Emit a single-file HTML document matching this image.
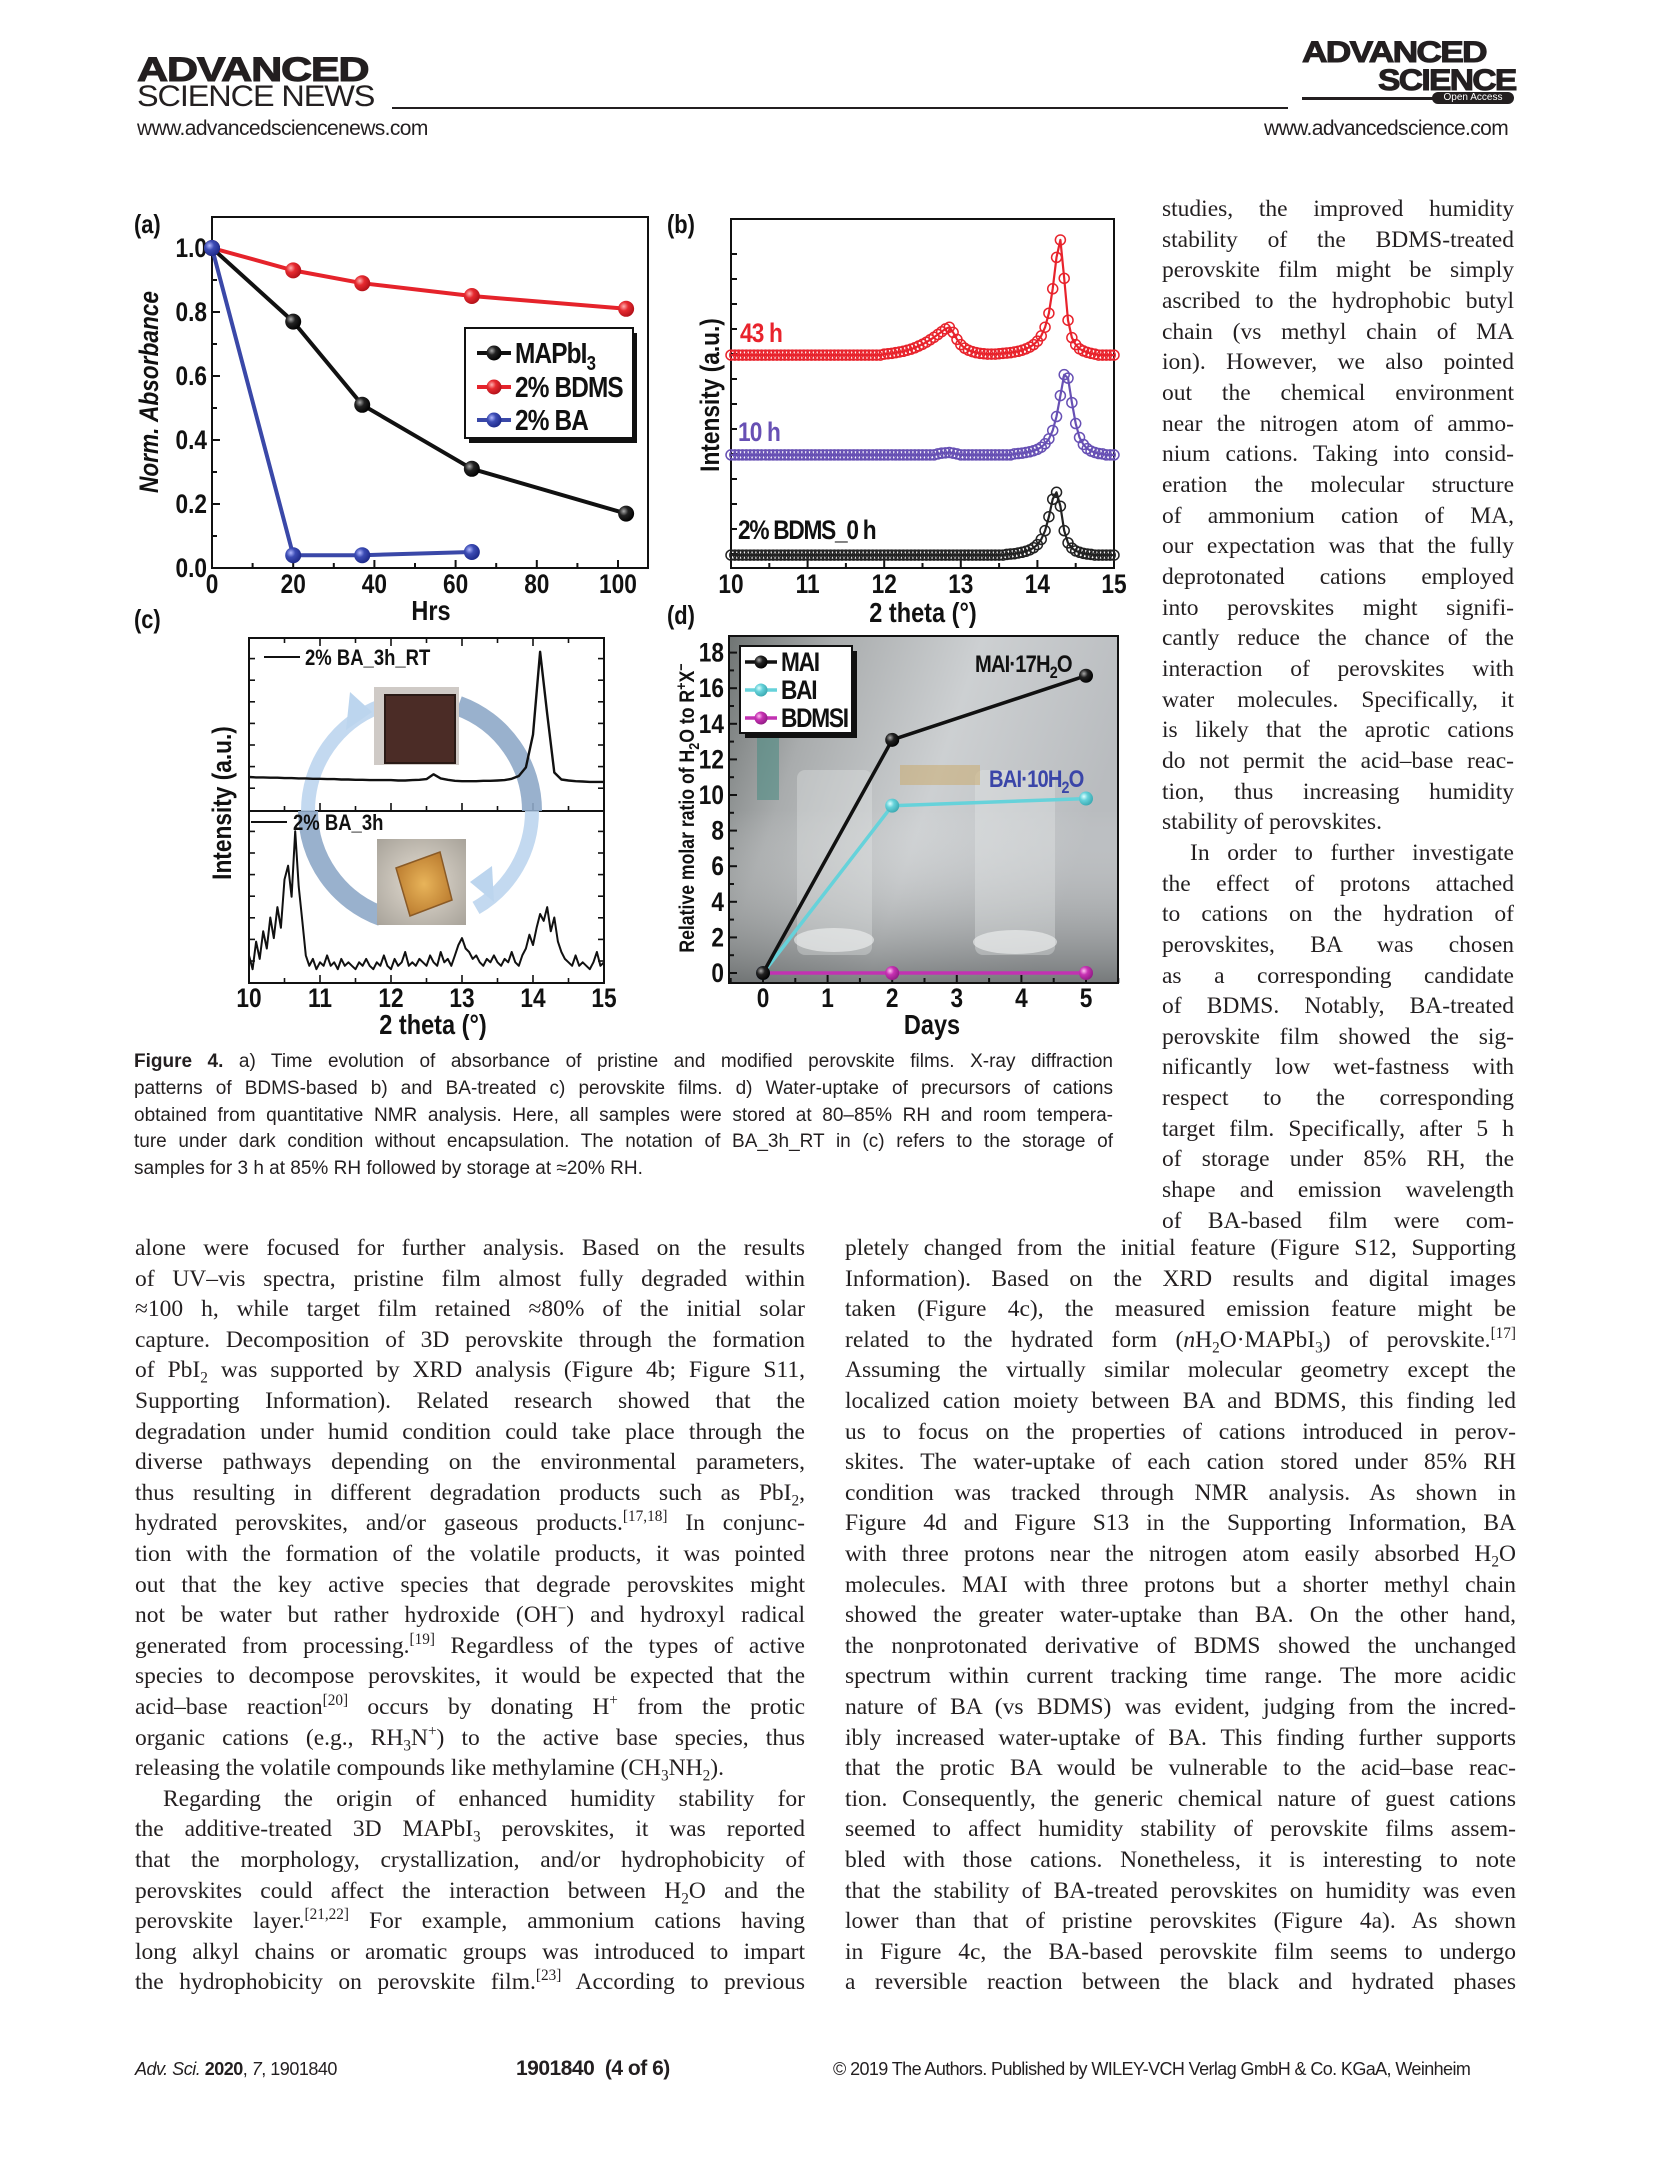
<!DOCTYPE html>
<html><head><meta charset="utf-8">
<style>
html,body{margin:0;padding:0;background:#fff;}
body{width:1654px;height:2174px;position:relative;overflow:hidden;color:#231f20;}
.ln{position:absolute;white-space:nowrap;text-align:justify;text-align-last:justify;height:30px;line-height:30px;}
.ser{font-family:"Liberation Serif",serif;font-size:23.5px;}
.cap{font-family:"Liberation Sans",sans-serif;font-size:19px;line-height:26px;height:26px;}
.end{text-align-last:left;}
.ind{text-indent:28px;}
sub,sup{font-size:65%;line-height:0;}
.hdr{position:absolute;font-family:"Liberation Sans",sans-serif;white-space:nowrap;transform-origin:left top;}
</style></head>
<body>
<div>
<div class="hdr" style="left:137px;top:51px;font-size:34px;font-weight:bold;letter-spacing:-1px;transform:scaleX(1.27);-webkit-text-stroke:1px #231f20;">ADVANCED</div>
<div class="hdr" style="left:137px;top:80px;font-size:30px;letter-spacing:-1px;transform:scaleX(1.08);">SCIENCE NEWS</div>
</div>
<div class="hdr" style="left:137px;top:117px;font-size:21px;letter-spacing:-0.6px;">www.advancedsciencenews.com</div>
<div style="position:absolute;left:392px;top:107px;width:896px;height:2px;background:#231f20;"></div>
<div>
<div class="hdr" style="left:1302px;top:36px;font-size:30px;font-weight:bold;letter-spacing:-1.5px;transform:scaleX(1.18);-webkit-text-stroke:1px #231f20;">ADVANCED</div>
<div class="hdr" style="left:1378px;top:64px;font-size:30px;font-weight:bold;letter-spacing:-1.5px;transform:scaleX(1.12);-webkit-text-stroke:1px #231f20;">SCIENCE</div>
<div style="position:absolute;left:1302px;top:97px;width:132px;height:3px;background:#231f20;"></div>
<div class="hdr" style="left:1432px;top:92px;width:82px;height:12px;border-radius:6px;background:#231f20;color:#fff;font-size:10px;line-height:12px;text-align:center;">Open Access</div>
</div>
<div class="hdr" style="left:1264px;top:117px;font-size:21px;letter-spacing:-0.6px;">www.advancedscience.com</div>

<svg id="fig" width="1654" height="1040" style="position:absolute;left:0;top:0;" xmlns="http://www.w3.org/2000/svg">
<defs>
<radialGradient id="gBlack" cx="0.35" cy="0.35" r="0.7"><stop offset="0" stop-color="#aaa"/><stop offset="0.4" stop-color="#222"/><stop offset="1" stop-color="#000"/></radialGradient>
<radialGradient id="gRed" cx="0.35" cy="0.35" r="0.7"><stop offset="0" stop-color="#ffb0b0"/><stop offset="0.4" stop-color="#e62a30"/><stop offset="1" stop-color="#b01018"/></radialGradient>
<radialGradient id="gBlue" cx="0.35" cy="0.35" r="0.7"><stop offset="0" stop-color="#b0b8ff"/><stop offset="0.4" stop-color="#3c4cb4"/><stop offset="1" stop-color="#1c2888"/></radialGradient>
<radialGradient id="gCyan" cx="0.35" cy="0.35" r="0.7"><stop offset="0" stop-color="#e0ffff"/><stop offset="0.4" stop-color="#66d2da"/><stop offset="1" stop-color="#3aa8b0"/></radialGradient>
<radialGradient id="gMag" cx="0.35" cy="0.35" r="0.7"><stop offset="0" stop-color="#ffc0f0"/><stop offset="0.4" stop-color="#c832b4"/><stop offset="1" stop-color="#901c84"/></radialGradient>
<linearGradient id="gPhotoBg" x1="0" y1="0" x2="1" y2="0.3"><stop offset="0" stop-color="#6f7473"/><stop offset="0.25" stop-color="#a9acad"/><stop offset="0.6" stop-color="#cdd0d2"/><stop offset="1" stop-color="#b9bcbf"/></linearGradient>
<linearGradient id="gPhotoBot" x1="0" y1="0" x2="0" y2="1"><stop offset="0.5" stop-color="#ffffff" stop-opacity="0"/><stop offset="1" stop-color="#3e4242" stop-opacity="0.55"/></linearGradient>
<radialGradient id="gYel" cx="0.5" cy="0.5" r="0.6"><stop offset="0" stop-color="#e8b45a"/><stop offset="1" stop-color="#b8782c"/></radialGradient>
<radialGradient id="gSilver" cx="0.5" cy="0.5" r="0.7"><stop offset="0" stop-color="#e4ddd2"/><stop offset="1" stop-color="#a8a39a"/></radialGradient>
</defs>
</svg>

<div id="caption"></div>
<div id="text"></div>

<div class="hdr" style="left:135px;top:2059px;font-size:18px;letter-spacing:-0.5px;"><i>Adv. Sci.</i> <b>2020</b>, <i>7</i>, 1901840</div>
<div class="hdr" style="left:516px;top:2057px;font-size:21px;font-weight:bold;letter-spacing:-0.5px;">1901840&nbsp; (4 of 6)</div>
<div class="hdr" style="left:833px;top:2059px;font-size:18px;letter-spacing:-0.6px;">© 2019 The Authors. Published by WILEY-VCH Verlag GmbH &amp; Co. KGaA, Weinheim</div>

<script>
// ---------- Panel (a) data ----------
const aHours=[0,20,37,64,102];
const aMAPbI3=[1.0,0.77,0.51,0.31,0.17];
const aBDMS=[1.0,0.93,0.89,0.85,0.81];
const aBAHours=[0,20,37,64];
const aBA=[1.0,0.04,0.04,0.05];
const aXTicks=[0,20,40,60,80,100];
const aXLabels=["0","20","40","60","80","100"];
const aYTicks=[0,0.2,0.4,0.6,0.8,1.0];
const aYLabels=["0.0","0.2","0.4","0.6","0.8","1.0"];
// ---------- Panel (b) data (2 theta 10..15 step 0.05) ----------
const bThetaStart=10, bThetaStep=0.05;
const bOffsets=[3.7,32.4,61];
const b0h=[0,0,0,0,0,0,0,0,0,0, 0,0,0,0,0,0,0,0,0,0, 0,0,0,0,0,0,0,0,0,0, 0,0,0,0,0,0,0,0,0,0, 0,0,0,0,0,0,0,0,0,0, 0,0,0,0,0,0,0,0,0,0, 0,0,0,0,0,0,0,0,0,0,
 0,0,0.2,0.3,0.4,0.6,0.8,1.1,1.5,2.1, 3,4.5,7,11,16,18,14,7,3.5,2, 1.2,0.8,0.5,0.3,0.2,0,0,0,0,0,0];
const b10h=[0,0,0,0,0,0,0,0,0,0, 0,0,0,0,0,0,0,0,0,0, 0,0,0,0,0,0,0,0,0,0, 0,0,0,0,0,0,0,0,0,0, 0,0,0,0,0,0,0,0,0,0,
 0,0,0,0,0.3,0.5,0.6,0.7,0.5,0.3, 0,0,0,0,0,0,0,0,0,0, 0,0,0,0,0.3,0.4,0.5,0.7,0.9,1.2,
 1.6,2.2,3.2,4.6,7,11,17,23,22,15, 9,5,3,1.8,1.1,0.7,0.4,0.3,0,0,0];
const b43h=[0,0,0,0,0,0,0,0,0,0, 0,0,0,0,0,0,0,0,0,0, 0,0,0,0,0,0,0,0,0,0, 0,0,0,0,0,0,0,0,0,0,
 0.3,0.4,0.5,0.7,0.9,1.1,1.4,1.7,2.1,2.6, 3.1,3.7,4.4,5.1,5.9,6.7,7.5,8,6.5,4.5, 3,2,1.4,1,0.7,0.5,0.4,0.3,0.3,0.3,
 0.4,0.5,0.6,0.7,0.9,1.1,1.4,1.8,2.3,3, 4,5.5,8,12,19,28,33,22,10,5, 3,1.8,1.2,0.8,0.5,0.3,0,0,0,0,0];
const bXTicks=[10,11,12,13,14,15];
const bXLabels=["10","11","12","13","14","15"];
// ---------- Panel (c) data ----------
const cTopStep=0.1;
const cTop=[59.7,59.6,59.6,59.5,59.5,59.4,59.4,59.3,59.3,59.2, 59.2,59.1,59.1,59.0,59.0,58.9,58.9,58.8,58.8,58.8,
 58.8,58.7,58.7,58.8,58.9,59.1,60.5,59.3,58.9,58.6, 58.5,58.5,58.5,58.6,58.6,58.7,58.8,59.2,60,62.5,
 72,96,78,61,59,58.7,58.5,58.4,58.3,58.3,58.3];
const cBotStep=0.05;
const cBot=[8,4,12,7,15,10,19,13,22,16, 30,34,25,44,28,18,8,5,7,4, 6,5,8,5,6,4,7,5,6,5, 4,6,5,7,5,4,6,5,8,5,
 4,7,5,6,9,5,6,5,7,6, 5,8,6,5,9,6,7,5,8,11, 13,10,9,7,8,6,5,7,6,8, 6,5,7,6,9,6,5,8,10,14,
 11,16,20,18,22,15,19,12,9,7, 6,5,8,5,6,5,4,6,9,5,6];
const cXTicks=[10,11,12,13,14,15];
const cXLabels=["10","11","12","13","14","15"];
// ---------- Panel (d) data ----------
const dDays=[0,2,5];
const dMAI=[0,13.1,16.7];
const dBAI=[0,9.4,9.8];
const dBDMSI=[0,0,0];
const dXTicks=[0,1,2,3,4,5];
const dXLabels=["0","1","2","3","4","5"];
const dYTicks=[0,2,4,6,8,10,12,14,16,18];
const dYLabels=["0","2","4","6","8","10","12","14","16","18"];

const NS="http://www.w3.org/2000/svg";
const svg=document.getElementById('fig');
const FONT='"Liberation Sans Narrow","Liberation Sans",sans-serif';
function mk(tag,parent){const e=document.createElementNS(NS,tag);parent.appendChild(e);return e;}
function setA(e,o){for(const k in o)e.setAttribute(k,o[k]);return e;}
function txt(parent,x,y,s,size,anchor,extra){const t=mk('text',parent);setA(t,{x:x,y:y,'font-family':FONT,'font-size':size,'font-weight':'bold','text-anchor':anchor||'start',fill:'#111'});if(extra)setA(t,extra);t.textContent=s;return t;}
function line(parent,x1,y1,x2,y2,col,w){return setA(mk('line',parent),{x1:x1,y1:y1,x2:x2,y2:y2,stroke:col,'stroke-width':w});}
function poly(parent,pts,col,w){return setA(mk('polyline',parent),{points:pts.map(p=>p[0].toFixed(1)+','+p[1].toFixed(1)).join(' '),fill:'none',stroke:col,'stroke-width':w,'stroke-linejoin':'round'});}

// ================= Panel (a) =================
(function(){
 const g=mk('g',svg);
 
 
 const L=212,R=648,T=217,B=568;
 const xa=h=>L+h*4.06, ya=v=>B-v*320;
 const pl=txt(g,134,233,'(a)',26,'start');
 
 
 const fr=setA(mk('rect',g),{x:L,y:T,width:R-L,height:B-T,fill:'none',stroke:'#111','stroke-width':2});
 
 
 for(let h=0;h<=100;h+=10){line(g,xa(h),B,xa(h),B-(h%20===0?8:5),'#111',2);}
 for(let v=0;v<=1.05;v+=0.1){const y=ya(v);line(g,L,y,L+(Math.round(v*10)%2===0?8:5),y,'#111',2);}
 aXTicks.forEach((t,i)=>{const s=txt(g,xa(t),593,aXLabels[i],27,'middle');
  
  });
 aYTicks.forEach((t,i)=>{const s=txt(g,207,ya(t)+9,aYLabels[i],27,'end');
  
  });
 const xt=txt(g,431,620,'Hrs',28,'middle');
 
 
 const yt=txt(g,0,0,'Norm. Absorbance',27,'middle',{transform:'translate(158,392) rotate(-90)','font-style':'italic'});
 
 
 const series=[[aHours,aBDMS,'#e5232b','gRed','series-2pct-bdms'],[aHours,aMAPbI3,'#111','gBlack','series-mapbi3'],[aBAHours,aBA,'#3a48a8','gBlue','series-2pct-ba']];
 series.forEach(s=>{
  const sg=mk('g',g);
  
  
  poly(sg,s[0].map((h,i)=>[xa(h),ya(s[1][i])]),s[2],4);
  s[0].forEach((h,i)=>{const c=setA(mk('circle',sg),{cx:xa(h),cy:ya(s[1][i]),r:8,fill:'url(#'+s[3]+')'});
   
   });
 });
 const lg=mk('g',g);
 
 
 setA(mk('rect',lg),{x:469,y:333,width:168,height:110,fill:'#111'});
 setA(mk('rect',lg),{x:465,y:328,width:168,height:110,fill:'#fff',stroke:'#111','stroke-width':2});
 const ents=[['MAPbI',' 3','#111','gBlack',353],['2% BDMS','','#e5232b','gRed',387],['2% BA','','#3a48a8','gBlue',420]];
 ents.forEach(e=>{
  const eg=mk('g',lg);
  
  
  line(eg,477,e[4],511,e[4],e[2],4);
  setA(mk('circle',eg),{cx:494,cy:e[4],r:7.5,fill:'url(#'+e[3]+')'});
  const t=txt(eg,515,e[4]+10,e[0],29,'start',{'letter-spacing':'-1'});
  if(e[1]){const ts=mk('tspan',t);setA(ts,{dy:7,'font-size':20});ts.textContent='3';}
 });
})();

// ================= Panel (b) =================
(function(){
 const g=mk('g',svg);
 
 
 const L=731,R=1114,T=219,B=568;
 const bX=t=>L+(t-10)*76.6, bY=v=>B-v*3.49;
 const pl=txt(g,667,233,'(b)',26,'start');
 
 
 const fr=setA(mk('rect',g),{x:L,y:T,width:R-L,height:B-T,fill:'none',stroke:'#111','stroke-width':2});
 
 
 for(let t=10;t<=15.001;t+=0.5){line(g,bX(t),B,bX(t),B-(Math.abs(t-Math.round(t))<0.01?8:5),'#111',2);}
 for(let y=B-14;y>T+20;y-=25){line(g,L,y,L+6,y,'#111',2);}
 bXTicks.forEach((t,i)=>{const s=txt(g,bX(t),593,bXLabels[i],27,'middle');
  
  });
 const xt=mk('text',g);setA(xt,{x:923,y:622,'font-family':FONT,'font-size':28,'font-weight':'bold','text-anchor':'middle',fill:'#111'});xt.textContent='2 theta (°)';
 
 
 const yt=txt(g,0,0,'Intensity (a.u.)',27,'middle',{transform:'translate(719,395) rotate(-90)'});
 
 
 const series=[[b0h,0,'#222','series-0h'],[b10h,1,'#6750b4','series-10h'],[b43h,2,'#e8232c','series-43h']];
 series.forEach(s=>{
  const sg=mk('g',g);
  
  
  const pts=s[0].map((v,i)=>[bX(bThetaStart+i*bThetaStep),bY(bOffsets[s[1]]+v)]);
  poly(sg,pts,s[2],2.2);
  pts.forEach(p=>{setA(mk('circle',sg),{cx:p[0],cy:p[1],r:5,fill:'none',stroke:s[2],'stroke-width':1.5});});
 });
 const l1=txt(g,740,342,'43 h',27,'start',{fill:'#e8232c','letter-spacing':'-1'});
 
 
 const l2=txt(g,738,441,'10 h',27,'start',{fill:'#6750b4','letter-spacing':'-1'});
 
 
 const l3=txt(g,738,539,'2% BDMS_0 h',27,'start',{'letter-spacing':'-1.5'});
 
 
})();

// ================= Panel (c) =================
(function(){
 const g=mk('g',svg);
 
 
 const L=249,R=604,T=638,B=983,M=811;
 const cX=t=>L+(t-10)*71, cY=v=>B-v*3.45;
 const pl=txt(g,134,628,'(c)',26,'start');
 
 
 const fr=setA(mk('rect',g),{x:L,y:T,width:R-L,height:B-T,fill:'none',stroke:'#111','stroke-width':2});
 
 
 line(g,L,M,R,M,'#111',2);
 for(let t=10;t<=15.001;t+=0.5){const mj=Math.abs(t-Math.round(t))<0.01;line(g,cX(t),B,cX(t),B-(mj?8:5),'#111',1.6);line(g,cX(t),M,cX(t),M-(mj?8:5),'#111',1.6);line(g,cX(t),T,cX(t),T+(mj?8:5),'#111',1.6);}
 for(let y=B-22;y>T;y-=21.6){if(Math.abs(y-M)<5)continue;line(g,L,y,L+6,y,'#111',1.6);line(g,R,y,R-6,y,'#111',1.6);}
 cXTicks.forEach((t,i)=>{const s=txt(g,cX(t),1007,cXLabels[i],27,'middle');
  
  });
 const xt=mk('text',g);setA(xt,{x:433,y:1034,'font-family':FONT,'font-size':28,'font-weight':'bold','text-anchor':'middle',fill:'#111'});xt.textContent='2 theta (°)';
 
 
 const yt=txt(g,0,0,'Intensity (a.u.)',27,'middle',{transform:'translate(231,803) rotate(-90)'});
 
 
 const ar=mk('g',g);
 
 
 const cx=420,cy=811,r=112;
 function arc(a1,a2,col,w,op){const p1=[cx+r*Math.cos(a1),cy+r*Math.sin(a1)],p2=[cx+r*Math.cos(a2),cy+r*Math.sin(a2)];
  setA(mk('path',ar),{d:`M${p1[0]},${p1[1]} A${r},${r} 0 0 1 ${p2[0]},${p2[1]}`,fill:'none',stroke:col,'stroke-width':w,opacity:op});}
 const D=Math.PI/180;
 arc(180*D,250*D,'#bcd5ee',14,0.9);
 arc(290*D,360*D,'#8ea8c8',20,0.9);
 arc(0*D,60*D,'#bcd5ee',14,0.9);
 arc(110*D,180*D,'#8ea8c8',20,0.9);
 setA(mk('polygon',ar),{points:'372,712 350,692 346,730',fill:'#bcd5ee'});
 setA(mk('polygon',ar),{points:'470,882 492,866 494,902',fill:'#bcd5ee'});
 const p1=mk('g',g);
 
 
 setA(mk('rect',p1),{x:374,y:687,width:85,height:78,fill:'#cfcac6'});
 setA(mk('rect',p1),{x:385,y:695,width:70,height:68,fill:'#4b2c26',stroke:'#2a1a16','stroke-width':2});
 const p2=mk('g',g);
 
 
 setA(mk('rect',p2),{x:377,y:839,width:89,height:86,fill:'url(#gSilver)'});
 setA(mk('polygon',p2),{points:'396,868 440,852 452,900 410,916',fill:'url(#gYel)',stroke:'#8a5a26','stroke-width':1.5});
 const t1=poly(g,cTop.map((v,i)=>[cX(10+i*cTopStep),cY(v)]),'#111',2.4);
 
 
 const t2=poly(g,cBot.map((v,i)=>[cX(10+i*cBotStep),cY(v)]),'#111',2);
 
 
 const le1=mk('g',g);
 
 
 line(le1,264,657,300,657,'#111',2);txt(le1,305,665,'2% BA_3h_RT',22,'start');
 const le2=mk('g',g);
 
 
 line(le2,251,822,287,822,'#111',2);txt(le2,293,830,'2% BA_3h',22,'start');
})();

// ================= Panel (d) =================
(function(){
 const g=mk('g',svg);
 
 
 const L=729,R=1118,T=636,B=983;
 const dX=d=>763+d*64.6, dY=v=>973-v*17.8;
 const pl=txt(g,667,624,'(d)',26,'start');
 
 
 const bg=mk('g',g);
 
 
 setA(mk('rect',bg),{x:L,y:T,width:R-L,height:B-T,fill:'url(#gPhotoBg)'});
 setA(mk('rect',bg),{x:L,y:T,width:R-L,height:B-T,fill:'url(#gPhotoBot)'});
 setA(mk('rect',bg),{x:757,y:690,width:22,height:110,fill:'#4f8c84',opacity:0.6});
 setA(mk('rect',bg),{x:797,y:770,width:75,height:185,rx:8,fill:'#e4e7e8',opacity:0.35});
 setA(mk('ellipse',bg),{cx:834,cy:940,rx:40,ry:12,fill:'#f2f4f4',opacity:0.6});
 setA(mk('rect',bg),{x:975,y:770,width:80,height:185,rx:8,fill:'#e8eaeb',opacity:0.35});
 setA(mk('ellipse',bg),{cx:1015,cy:942,rx:42,ry:12,fill:'#f2f4f4',opacity:0.6});
 setA(mk('rect',bg),{x:900,y:765,width:80,height:20,fill:'#c9a866',opacity:0.5});
 const fr=setA(mk('rect',g),{x:L,y:T,width:R-L,height:B-T,fill:'none',stroke:'#111','stroke-width':2});
 
 
 for(let d=-0.5;d<=5.5;d+=0.5){const mj=Math.abs(d-Math.round(d))<0.01;line(g,dX(d),B,dX(d),B-(mj?8:5),'#111',2);}
 for(let v=0;v<=18;v+=1){line(g,L,dY(v),L+(v%2===0?8:5),dY(v),'#111',2);}
 dXTicks.forEach((t,i)=>{const s=txt(g,dX(t),1007,dXLabels[i],27,'middle');
  
  });
 dYTicks.forEach((t,i)=>{const s=txt(g,724,dY(t)+9,dYLabels[i],27,'end');
  
  });
 const xt=txt(g,932,1034,'Days',28,'middle');
 
 
 const yt=txt(g,0,0,'Relative molar ratio of H',21,'middle',{transform:'translate(694,808) rotate(-90)'});
 const s1=mk('tspan',yt);setA(s1,{dy:5,'font-size':15});s1.textContent='2';
 const s2=mk('tspan',yt);setA(s2,{dy:-5});s2.textContent='O to R';
 const s3=mk('tspan',yt);setA(s3,{dy:-8,'font-size':15});s3.textContent='+';
 const s4=mk('tspan',yt);setA(s4,{dy:8});s4.textContent='X';
 const s5=mk('tspan',yt);setA(s5,{dy:-8,'font-size':15});s5.textContent='−';
 
 
 const series=[[dBDMSI,'#c232b2','gMag','series-bdmsi'],[dBAI,'#66d2da','gCyan','series-bai'],[dMAI,'#111','gBlack','series-mai']];
 series.forEach(s=>{
  const sg=mk('g',g);
  
  
  poly(sg,dDays.map((d,i)=>[dX(d),dY(s[0][i])]),s[1],3.5);
  dDays.forEach((d,i)=>{const c=setA(mk('circle',sg),{cx:dX(d),cy:dY(s[0][i]),r:7,fill:'url(#'+s[2]+')'});
   
   });
 });
 const a1=txt(g,975,672,'MAI·17H',24,'start',{'letter-spacing':'-1'});
 const a1s=mk('tspan',a1);setA(a1s,{dy:6,'font-size':17});a1s.textContent='2';
 const a1o=mk('tspan',a1);setA(a1o,{dy:-6});a1o.textContent='O';
 
 
 const a2=txt(g,989,787,'BAI·10H',24,'start',{'letter-spacing':'-1',fill:'#3a45a8'});
 const a2s=mk('tspan',a2);setA(a2s,{dy:6,'font-size':17});a2s.textContent='2';
 const a2o=mk('tspan',a2);setA(a2o,{dy:-6});a2o.textContent='O';
 
 
 const lg=mk('g',g);
 
 
 setA(mk('rect',lg),{x:745,y:651,width:112,height:87,fill:'#111'});
 setA(mk('rect',lg),{x:740,y:646,width:112,height:87,fill:'#fff',stroke:'#111','stroke-width':2});
 [['MAI','#111','gBlack',662],['BAI','#66d2da','gCyan',690],['BDMSI','#c232b2','gMag',718]].forEach(e=>{
  const eg=mk('g',lg);
  
  
  line(eg,745,e[3],777,e[3],e[1],3.5);
  setA(mk('circle',eg),{cx:761,cy:e[3],r:6.5,fill:'url(#'+e[2]+')'});
  txt(eg,781,e[3]+9,e[0],27,'start',{'letter-spacing':'-1.5'});
 });
})();

// condense chart text to mimic narrow font
svg.querySelectorAll('text').forEach(t=>{
 const L=t.getComputedTextLength();
 if(L>0){t.setAttribute('textLength',(L*0.84).toFixed(1));t.setAttribute('lengthAdjust','spacingAndGlyphs');}
});

// ================= Text =================
const capLines=[
 '<b>Figure 4.</b> a) Time evolution of absorbance of pristine and modified perovskite films. X-ray diffraction',
 'patterns of BDMS-based b) and BA-treated c) perovskite films. d) Water-uptake of precursors of cations',
 'obtained from quantitative NMR analysis. Here, all samples were stored at 80–85% RH and room tempera-',
 'ture under dark condition without encapsulation. The notation of BA_3h_RT in (c) refers to the storage of',
 'samples for 3 h at 85% RH followed by storage at ≈20% RH.'];
const rightTop=['studies, the improved humidity','stability of the BDMS-treated','perovskite film might be simply','ascribed to the hydrophobic butyl','chain (vs methyl chain of MA','ion). However, we also pointed','out the chemical environment','near the nitrogen atom of ammo-','nium cations. Taking into consid-','eration the molecular structure','of ammonium cation of MA,','our expectation was that the fully','deprotonated cations employed','into perovskites might signifi-','cantly reduce the chance of the','interaction of perovskites with','water molecules. Specifically, it','is likely that the aprotic cations','do not permit the acid–base reac-','tion, thus increasing humidity','@stability of perovskites.','^In order to further investigate','the effect of protons attached','to cations on the hydration of','perovskites, BA was chosen','as a corresponding candidate','of BDMS. Notably, BA-treated','perovskite film showed the sig-','nificantly low wet-fastness with','respect to the corresponding','target film. Specifically, after 5 h','of storage under 85% RH, the','shape and emission wavelength','of BA-based film were com-'];
const leftBot=['alone were focused for further analysis. Based on the results','of UV–vis spectra, pristine film almost fully degraded within','≈100 h, while target film retained ≈80% of the initial solar','capture. Decomposition of 3D perovskite through the formation','of PbI<sub>2</sub> was supported by XRD analysis (Figure 4b; Figure S11,','Supporting Information). Related research showed that the','degradation under humid condition could take place through the','diverse pathways depending on the environmental parameters,','thus resulting in different degradation products such as PbI<sub>2</sub>,','hydrated perovskites, and/or gaseous products.<sup>[17,18]</sup> In conjunc-','tion with the formation of the volatile products, it was pointed','out that the key active species that degrade perovskites might','not be water but rather hydroxide (OH<sup>−</sup>) and hydroxyl radical','generated from processing.<sup>[19]</sup> Regardless of the types of active','species to decompose perovskites, it would be expected that the','acid–base reaction<sup>[20]</sup> occurs by donating H<sup>+</sup> from the protic','organic cations (e.g., RH<sub>3</sub>N<sup>+</sup>) to the active base species, thus','@releasing the volatile compounds like methylamine (CH<sub>3</sub>NH<sub>2</sub>).','^Regarding the origin of enhanced humidity stability for','the additive-treated 3D MAPbI<sub>3</sub> perovskites, it was reported','that the morphology, crystallization, and/or hydrophobicity of','perovskites could affect the interaction between H<sub>2</sub>O and the','perovskite layer.<sup>[21,22]</sup> For example, ammonium cations having','long alkyl chains or aromatic groups was introduced to impart','the hydrophobicity on perovskite film.<sup>[23]</sup> According to previous'];
const rightBot=['pletely changed from the initial feature (Figure S12, Supporting','Information). Based on the XRD results and digital images','taken (Figure 4c), the measured emission feature might be','related to the hydrated form (<i>n</i>H<sub>2</sub>O·MAPbI<sub>3</sub>) of perovskite.<sup>[17]</sup>','Assuming the virtually similar molecular geometry except the','localized cation moiety between BA and BDMS, this finding led','us to focus on the properties of cations introduced in perov-','skites. The water-uptake of each cation stored under 85% RH','condition was tracked through NMR analysis. As shown in','Figure 4d and Figure S13 in the Supporting Information, BA','with three protons near the nitrogen atom easily absorbed H<sub>2</sub>O','molecules. MAI with three protons but a shorter methyl chain','showed the greater water-uptake than BA. On the other hand,','the nonprotonated derivative of BDMS showed the unchanged','spectrum within current tracking time range. The more acidic','nature of BA (vs BDMS) was evident, judging from the incred-','ibly increased water-uptake of BA. This finding further supports','that the protic BA would be vulnerable to the acid–base reac-','tion. Consequently, the generic chemical nature of guest cations','seemed to affect humidity stability of perovskite films assem-','bled with those cations. Nonetheless, it is interesting to note','that the stability of BA-treated perovskites on humidity was even','lower than that of pristine perovskites (Figure 4a). As shown','in Figure 4c, the BA-based perovskite film seems to undergo','a reversible reaction between the black and hydrated phases'];

function placeLines(container,lines,x,w,y0,pitch,cls,h,name){
 lines.forEach((s,i)=>{
  const d=document.createElement('div');
  
  
  let c='ln '+cls;
  if(s[0]==='@'){c+=' end';s=s.slice(1);}
  if(s[0]==='^'){c+=' ind';s=s.slice(1);}
  if(i===lines.length-1&&name==='caption-line')c+=' end';
  d.className=c;
  d.style.left=x+'px';d.style.width=w+'px';d.style.top=(y0+i*pitch-h/2)+'px';
  const sp=document.createElement('span');sp.innerHTML=s;d.appendChild(sp);
  container.appendChild(d);
  const nat=sp.getBoundingClientRect().width+(d.classList.contains('ind')?28:0);
  if(nat>w){const n=sp.textContent.length;d.style.letterSpacing=(-(nat-w+2)/n)+'px';}
 });
}
const capEl=document.getElementById('caption');
placeLines(capEl,capLines,134,979,1062,26.8,'cap',26,'caption-line');
const txtEl=document.getElementById('text');
placeLines(txtEl,rightTop,1162,352,209,30.66,'ser',30,'text-line');
placeLines(txtEl,leftBot,135,670,1248,30.6,'ser',30,'text-line');
placeLines(txtEl,rightBot,845,671,1248,30.6,'ser',30,'text-line');
</script>
</body></html>
